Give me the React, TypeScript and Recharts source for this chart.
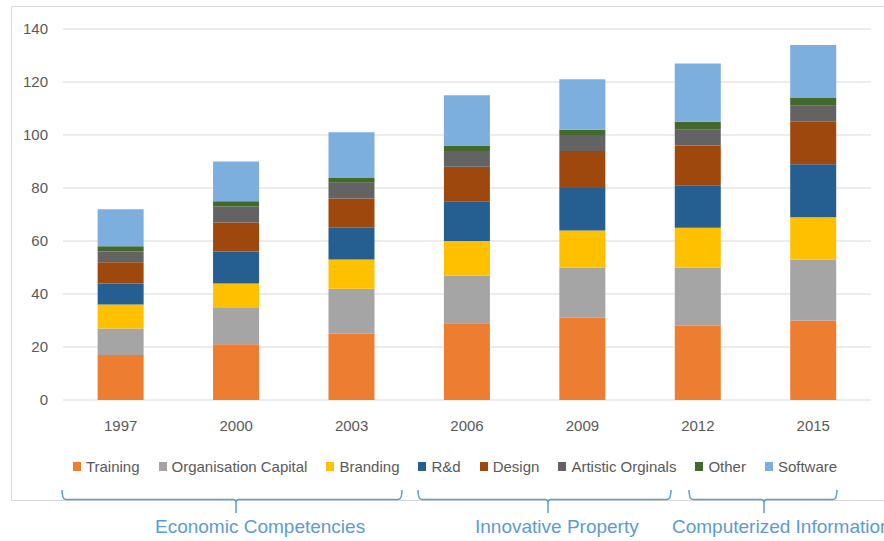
import React from "react";
import { BarChart, Bar, XAxis, YAxis, CartesianGrid, Legend } from "recharts";

const years = ["1997", "2000", "2003", "2006", "2009", "2012", "2015"];

const training = [17, 21, 25, 29, 31, 28, 30];
const orgCapital = [10, 14, 17, 18, 19, 22, 23];
const branding = [9, 9, 11, 13, 14, 15, 16];
const rnd = [8, 12, 12, 15, 16, 16, 20];
const design = [8, 11, 11, 13, 14, 15, 16];
const artistic = [4, 6, 6, 6, 6, 6, 6];
const other = [2, 2, 2, 2, 2, 3, 3];
const software = [14, 15, 17, 19, 19, 22, 20];

const yTicks = [0, 20, 40, 60, 80, 100, 120, 140];

const series = [
  { key: "training", name: "Training", values: training, color: "#ED7D31" },
  { key: "org", name: "Organisation Capital", values: orgCapital, color: "#A5A5A5" },
  { key: "branding", name: "Branding", values: branding, color: "#FFC000" },
  { key: "rnd", name: "R&d", values: rnd, color: "#255E91" },
  { key: "design", name: "Design", values: design, color: "#9E480E" },
  { key: "artistic", name: "Artistic Orginals", values: artistic, color: "#636363" },
  { key: "other", name: "Other", values: other, color: "#43682B" },
  { key: "software", name: "Software", values: software, color: "#7CAFDD" },
];

// bracket annotations under the legend
const groups = [
  { label: "Economic Competencies", from: 62, to: 402, stem: 236, textX: 155 },
  { label: "Innovative Property", from: 418, to: 671, stem: 548, textX: 475 },
  { label: "Computerized Information", from: 689, to: 837, stem: 764, textX: 672 },
];

const data = years.map((year, i) => {
  const row: any = { year };
  series.forEach((s) => (row[s.key] = s.values[i]));
  return row;
});

const FONT = '"Liberation Sans", Arial, sans-serif';
const TEXT = "#595959";

// legend keeps series order (recharts would sort it by name otherwise)
const LegendContent = () => (
  <div style={{ display: "flex", justifyContent: "center", fontFamily: FONT, fontSize: 15, color: TEXT }}>
    {series.map((s, i) => (
      <div key={s.key} style={{ display: "flex", alignItems: "center", marginLeft: i === 0 ? 0 : 19 }}>
        <span style={{ width: 8, height: 9, background: s.color, marginRight: 5, display: "inline-block" }} />
        <span>{s.name}</span>
      </div>
    ))}
  </div>
);

function bracketPath(g: { from: number; to: number; stem: number }) {
  const top = 490;
  const y = 499.5;
  const bottom = 513;
  return (
    `M ${g.from} ${top} Q ${g.from} ${y} ${g.from + 4} ${y} L ${g.stem - 3} ${y} ` +
    `Q ${g.stem} ${y} ${g.stem} ${y + 3} L ${g.stem} ${bottom} ` +
    `M ${g.stem} ${y + 3} Q ${g.stem} ${y} ${g.stem + 3} ${y} L ${g.to - 4} ${y} ` +
    `Q ${g.to} ${y} ${g.to} ${top}`
  );
}

export default function App() {
  return (
    <div
      style={{
        position: "absolute",
        left: 0,
        top: 0,
        width: 884,
        height: 541,
        overflow: "hidden",
        background: "#fff",
        fontFamily: FONT,
      }}
    >
      <div
        style={{
          position: "absolute",
          left: 11,
          top: 6,
          width: 900,
          height: 495,
          boxSizing: "border-box",
          border: "1px solid #d9d9d9",
        }}
      />
      <div style={{ position: "absolute", left: 0, top: 0 }}>
        <BarChart
          width={884}
          height={541}
          data={data}
          margin={{ top: 29, right: 13, left: 13, bottom: 111 }}
          barCategoryGap="30%"
        >
          <CartesianGrid vertical={false} stroke="#d9d9d9" strokeWidth={1} />
          <XAxis
            dataKey="year"
            height={30}
            axisLine={false}
            tickLine={false}
            tickMargin={14}
            tick={{ fill: TEXT, fontSize: 15, fontFamily: FONT }}
          />
          <YAxis
            width={50}
            domain={[0, 140]}
            ticks={yTicks}
            axisLine={false}
            tickLine={false}
            tickMargin={9}
            tick={{ fill: TEXT, fontSize: 15, fontFamily: FONT }}
          />
          <Legend
            layout="horizontal"
            verticalAlign="middle"
            align="center"
            content={<LegendContent />}
            wrapperStyle={{ position: "absolute", top: 458, left: 26, width: 858 }}
          />
          {series.map((s) => (
            <Bar
              key={s.key}
              dataKey={s.key}
              name={s.name}
              stackId="a"
              fill={s.color}
              isAnimationActive={false}
            />
          ))}
        </BarChart>
      </div>
      <svg width={884} height={541} style={{ position: "absolute", left: 0, top: 0, pointerEvents: "none" }}>
        {groups.map((g) => (
          <path key={g.label} d={bracketPath(g)} fill="none" stroke="#5B9BD5" strokeWidth={1.5} />
        ))}
      </svg>
      {groups.map((g) => (
        <div
          key={g.label}
          style={{
            position: "absolute",
            left: g.textX,
            top: 516,
            fontSize: 19,
            lineHeight: "22px",
            color: "#5B9BD5",
            whiteSpace: "nowrap",
          }}
        >
          {g.label}
        </div>
      ))}
    </div>
  );
}
